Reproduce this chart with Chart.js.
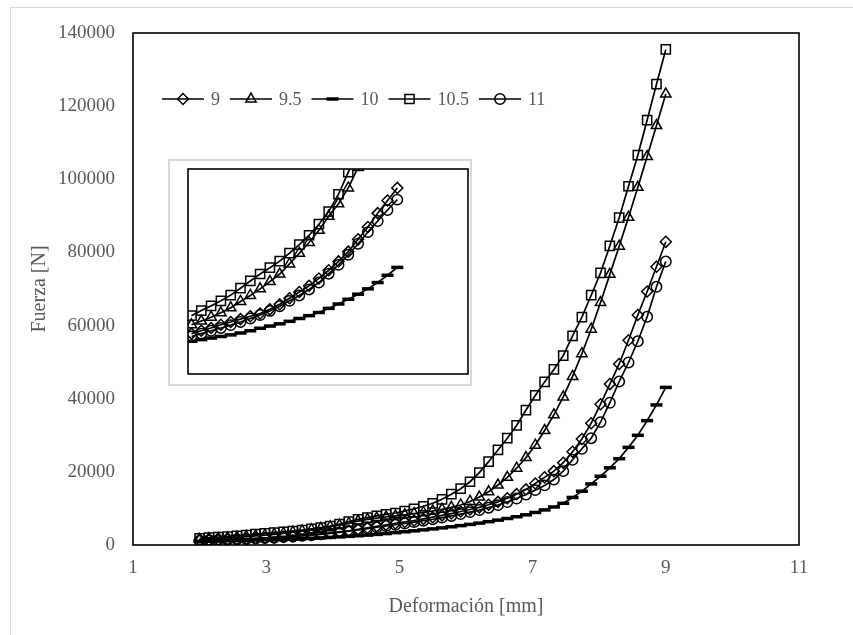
<!DOCTYPE html>
<html><head><meta charset="utf-8">
<script src="https://cdn.jsdelivr.net/npm/chart.js@4.4.1/dist/chart.umd.min.js"></script>
<style>
html,body{margin:0;padding:0;background:#fff;}
#wrap{position:relative;width:853px;height:635px;overflow:hidden;background:#fff;}
#frame{position:absolute;left:10px;top:7px;width:900px;height:700px;border:1px solid #d9d9d9;box-sizing:border-box;pointer-events:none;}
#main{position:absolute;left:0;top:0;}
#insetBox{position:absolute;left:168px;top:159px;width:304px;height:227px;border:2px solid #d9d9d9;box-sizing:border-box;background:#fff;}
#inset{position:absolute;left:0;top:0;}
</style></head>
<body><div id="wrap"><div id="frame"></div><canvas id="main" width="853" height="635"></canvas><div id="insetBox"><canvas id="inset" width="300" height="223"></canvas></div></div>
<script>
// Deformation [mm]
const deformacion = [2.00,2.14,2.28,2.42,2.56,2.70,2.84,2.98,3.12,3.26,3.40,3.54,3.68,3.82,3.96,4.10,4.24,4.38,4.52,4.66,4.80,4.94,5.08,5.22,5.36,5.50,5.64,5.78,5.92,6.06,6.20,6.34,6.48,6.62,6.76,6.90,7.04,7.18,7.32,7.46,7.60,7.74,7.88,8.02,8.16,8.30,8.44,8.58,8.72,8.86,9.00];
// Force [N] per series
const fuerza9 = [1280,1370,1460,1560,1650,1740,1830,1920,2050,2210,2400,2600,2800,3030,3290,3570,3880,4270,4660,5100,5500,5900,6300,6700,7150,7600,8100,8600,9150,9700,10300,11000,11800,12800,13900,15200,16800,18500,20200,22500,25500,29000,33300,38500,44000,49500,56000,62900,69300,76100,82900];
const fuerza9_5 = [1560,1680,1800,1940,2100,2300,2490,2700,2930,3170,3490,3830,4170,4560,5000,5400,5900,6550,7000,7350,7650,7950,8250,8550,8900,9300,9750,10300,10950,11900,13100,14550,16400,18500,21000,23900,27300,31300,35600,40500,46100,52300,59000,66300,74000,81700,89600,97800,106200,114700,123300];
const fuerza10 = [1040,1090,1140,1190,1240,1300,1370,1450,1520,1590,1670,1760,1850,1950,2080,2220,2370,2530,2700,2900,3130,3380,3620,3870,4130,4400,4680,4980,5300,5630,5990,6380,6800,7250,7730,8250,8900,9600,10400,11400,13000,14700,16700,18800,21100,23600,26700,30000,34000,38300,43100];
const fuerza10_5 = [1850,2010,2160,2320,2500,2720,2950,3170,3370,3580,3830,4100,4400,4750,5150,5700,6400,7000,7500,7950,8350,8750,9250,9900,10600,11400,12500,13900,15400,17300,19800,22800,26000,29200,32700,36900,40900,44600,48000,51800,57200,62300,68300,74400,81800,89500,98100,106600,116200,126000,135500];
const fuerza11 = [1190,1280,1370,1460,1550,1650,1760,1870,2000,2150,2320,2490,2680,2900,3180,3460,3780,4130,4500,4850,5200,5530,5880,6250,6650,7050,7500,7950,8450,9000,9550,10200,10900,11750,12700,13800,15000,16300,17900,20200,23300,26300,29200,33600,38900,44700,49900,55700,62400,70600,77500];
const seriesLabels = ['9','9.5','10','10.5','11'];
const xTicks = [1,3,5,7,9,11];
const yTicks = [0,20000,40000,60000,80000,100000,120000,140000];
const insetCount = 22; // points shown in the inset (x up to ~5 mm)

const seriesValues = [fuerza9, fuerza9_5, fuerza10, fuerza10_5, fuerza11];
const styles = [
  {pointStyle:'rectRot', pointRadius:5.5, pointBorderWidth:1.5},
  {pointStyle:'triangle', pointRadius:6, pointBorderWidth:1.5},
  {pointStyle:'line', pointRadius:6, pointBorderWidth:3.5},
  {pointStyle:'rect', pointRadius:6.5, pointBorderWidth:1.5},
  {pointStyle:'circle', pointRadius:5.2, pointBorderWidth:1.5}
];
function makeDatasets(n){
  return seriesValues.map((vals,i)=>Object.assign({
    label: seriesLabels[i],
    data: deformacion.slice(0,n).map((x,j)=>({x:x, y:vals[j]})),
    borderColor:'#000', borderWidth:1.7, pointBorderColor:'#000',
    pointBackgroundColor:'rgba(0,0,0,0)', showLine:true, tension:0, fill:false
  }, styles[i]));
}
const frameRect = {
  id:'frameRect',
  afterDraw(chart){
    const a = chart.chartArea, c = chart.ctx;
    c.save(); c.strokeStyle='#000'; c.lineWidth=1.6;
    c.strokeRect(a.left, a.top, a.right-a.left, a.bottom-a.top);
    c.restore();
  }
};
function drawMarker(c, st, x, y){
  if (Chart.helpers && Chart.helpers.drawPoint){
    Chart.helpers.drawPoint(c, {pointStyle:st.pointStyle, radius:st.pointRadius, borderWidth:st.pointBorderWidth, rotation:0}, x, y);
  }
}
const customLegend = {
  id:'customLegend',
  afterDraw(chart){
    const c = chart.ctx, a = chart.chartArea;
    let x = a.left + 29; const y = a.top + 66;
    c.save();
    c.font = '18px "Liberation Serif"';
    c.textBaseline = 'middle';
    chart.data.datasets.forEach(ds=>{
      c.strokeStyle='#000'; c.lineWidth=1.7;
      c.beginPath(); c.moveTo(x,y); c.lineTo(x+42,y); c.stroke();
      c.fillStyle='rgba(0,0,0,0)'; c.strokeStyle='#000'; c.lineWidth=ds.pointBorderWidth;
      drawMarker(c, ds, x+21, y);
      c.fillStyle='#595959';
      c.fillText(ds.label, x+49, y+1);
      x += 49 + c.measureText(ds.label).width + 10;
    });
    c.restore();
  }
};

new Chart(document.getElementById('main'), {
  type:'scatter',
  data:{datasets: makeDatasets(deformacion.length)},
  options:{
    responsive:false, animation:false, events:[],
    layout:{padding:{top:33,right:54,left:0,bottom:0}},
    plugins:{legend:{display:false}, tooltip:{enabled:false}},
    scales:{
      x:{type:'linear', min:1, max:11,
        afterBuildTicks(s){ s.ticks = xTicks.map(v=>({value:v})); },
        afterFit(s){ s.height = 90; },
        grid:{display:false, drawTicks:false}, border:{display:false},
        ticks:{color:'#595959', padding:12, font:{family:'Liberation Serif', size:19}},
        title:{display:true, text:'Deformación [mm]', color:'#595959', padding:{top:0,bottom:16}, font:{family:'Liberation Serif', size:20}}
      },
      y:{type:'linear', min:0, max:140000,
        afterBuildTicks(s){ s.ticks = yTicks.map(v=>({value:v})); },
        afterFit(s){ s.width = 133; },
        grid:{display:false, drawTicks:false}, border:{display:false},
        ticks:{color:'#595959', padding:18, font:{family:'Liberation Serif', size:19}, callback:v=>String(v)},
        title:{display:true, text:'Fuerza [N]', color:'#595959', padding:{top:28,bottom:0}, font:{family:'Liberation Serif', size:20}}
      }
    }
  },
  plugins:[frameRect, customLegend]
});

new Chart(document.getElementById('inset'), {
  type:'scatter',
  data:{datasets: makeDatasets(insetCount)},
  options:{
    responsive:false, animation:false, events:[],
    layout:{autoPadding:false, padding:{top:8,right:2,left:18,bottom:10}},
    plugins:{legend:{display:false}, tooltip:{enabled:false}},
    scales:{
      x:{type:'linear', min:1.95, max:5.95, display:false, ticks:{display:false}, grid:{display:false}},
      y:{type:'linear', min:0, max:6500, display:false, ticks:{display:false}, grid:{display:false}}
    }
  },
  plugins:[frameRect]
});
</script>
</body></html>
